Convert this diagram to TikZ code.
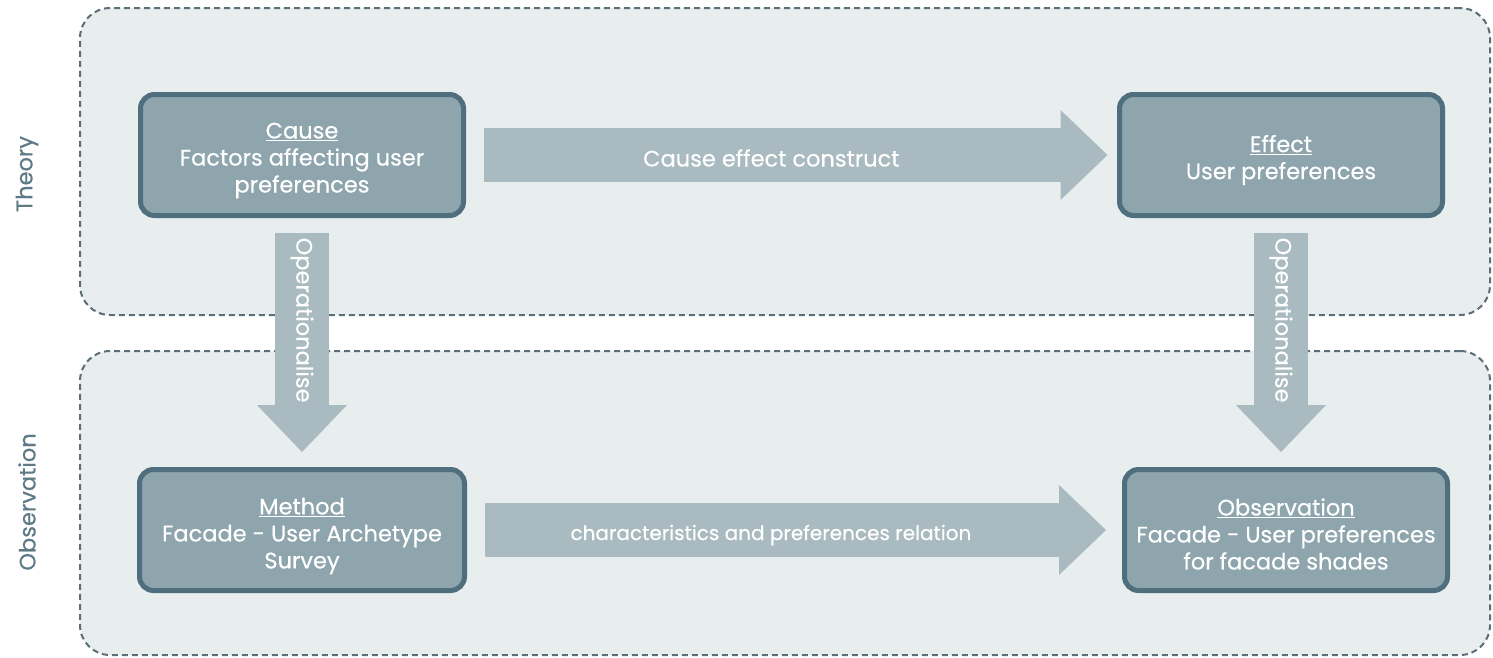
\documentclass[tikz,border=0pt]{standalone}
\usepackage{fontspec}
\setmainfont{Poppins}[FakeBold=0.4]
\usetikzlibrary{arrows.meta}
\definecolor{regionfill}{HTML}{E8EDEE}
\definecolor{regionline}{HTML}{5A6E77}
\definecolor{boxfill}{HTML}{8EA5AE}
\definecolor{boxline}{HTML}{4F6F7E}
\definecolor{flowfill}{HTML}{A9BAC0}
\definecolor{sidetext}{HTML}{5E7A86}
\begin{document}
\begin{tikzpicture}[x=1pt,y=-1pt,
  region/.style={draw=regionline, fill=regionfill, line width=2pt,
    dash pattern=on 6pt off 4pt, rounded corners=30pt, inner sep=0pt},
  stagebox/.style={draw=boxline, fill=boxfill, line width=5pt,
    rounded corners=14pt, minimum height=121pt, inner sep=0pt},
  stagetext/.style={text=white, align=center, inner sep=0pt,
    font=\fontsize{22.5}{27}\selectfont},
  flow/.style={draw=flowfill, line width=54pt,
    -{Triangle[width=90pt,length=47pt,line width=0pt]}},
  flowlabel/.style={text=white, font=\fontsize{22.5}{26}\selectfont, inner sep=0pt},
  sidelabel/.style={text=sidetext, font=\fontsize{22.5}{26}\selectfont, rotate=90}]
\useasboundingbox (0,0) rectangle (1493,657);

% dashed layers
\node[region, minimum width=1410pt, minimum height=307pt] (theory) at (785,161.5) {};
\node[region, minimum width=1410pt, minimum height=304pt] (observ) at (785,503) {};

\node[sidelabel] (theorylabel) at (27,174) {Theory};
\node[sidelabel] (observlabel) at (27,502) {Observation};

% stage boxes, text set slightly below centre
\node[stagebox, minimum width=323pt,
  label={[stagetext, yshift=-5.5pt]center:{\underline{Cause}\\Factors affecting user\\preferences}}]
  (cause) at (302,155) {};
\node[stagebox, minimum width=323pt,
  label={[stagetext, yshift=-5pt]center:{\underline{Effect}\\User preferences}}]
  (effect) at (1281,155) {};
\node[stagebox, minimum width=325pt,
  label={[stagetext, yshift=-6pt]center:{\underline{Method}\\Facade - User Archetype\\Survey}}]
  (method) at (302,530) {};
\node[stagebox, minimum width=323pt,
  label={[stagetext, yshift=-4pt]center:{\underline{Observation}\\Facade - User preferences\\for facade shades}}]
  (obs) at (1286,530) {};

% flows between stages
\draw[flow, shorten <=18pt, shorten >=9.5pt] (cause.east) -- (effect.west)
  node[flowlabel, pos=0.469, yshift=-3pt] (celabel) {Cause effect construct};
\draw[flow, shorten <=18pt, shorten >=16pt] (method.east) -- (obs.west)
  node[flowlabel, pos=0.464, yshift=-5pt, font=\fontsize{20}{24}\selectfont] (cplabel)
  {characteristics and preferences relation};
\draw[flow, shorten <=14.5pt, shorten >=15pt] (cause.south) -- (method.north)
  node[flowlabel, pos=0.41, rotate=-90] (oplabelA) {Operationalise};
\coordinate (effdown) at (effect.south |- obs.north);
\draw[flow, shorten <=14.5pt, shorten >=15pt] (effect.south) -- (effdown)
  node[flowlabel, pos=0.41, rotate=-90] (oplabelB) {Operationalise};
\end{tikzpicture}
\end{document}
